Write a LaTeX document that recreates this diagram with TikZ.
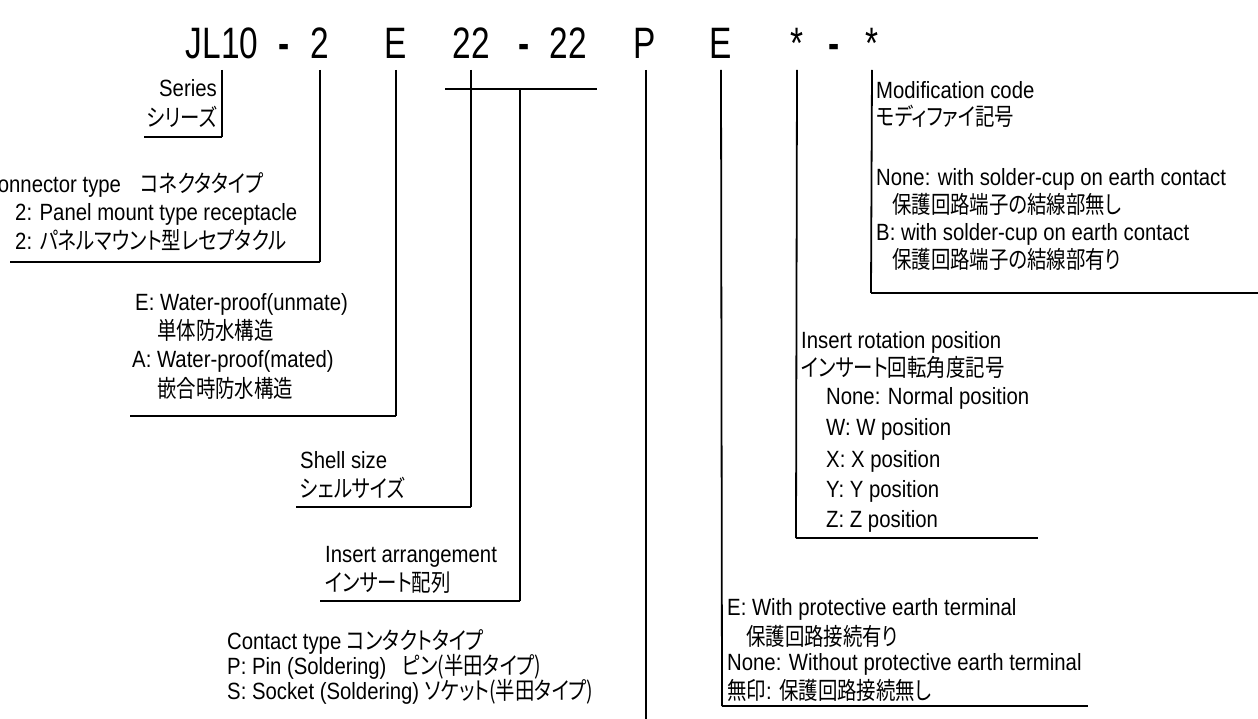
\documentclass[tikz,border=0pt]{standalone}
\usepackage{fontspec}
\setmainfont{Liberation Sans}[FakeStretch=0.865]
\newfontfamily\codefont{Liberation Sans}[FakeStretch=0.76]
\newfontfamily\jpfont{Noto Sans CJK JP}[Scale=1.02,FakeStretch=0.81,RawFeature=+palt]
\newcommand{\ja}[1]{{\jpfont #1}}

\tikzset{
  code/.style={font=\codefont\fontsize{44}{44}\selectfont, inner sep=0pt, anchor=base},
  lbl/.style={font=\fontsize{23.5}{28}\selectfont, inner sep=0pt, anchor=base west},
  vline/.style={line width=1.8pt},
  hline/.style={line width=2.8pt}
}

\begin{document}
\begin{tikzpicture}[x=1pt,y=-1pt]

        % frame of the page
        \clip (0,0) rectangle (1258,719);

        % part number
        \node[code] (jl) at (222,59) {JL10};
        \node[code] (d1) at (284,59) {\bfseries -};
        \node[code] (ctype) at (320,59) {2};
        \node[code] (wp) at (396,59) {E};
        \node[code] (shell) at (471,59) {22};
        \node[code] (d2) at (524,59) {\bfseries -};
        \node[code] (arr) at (568,59) {22};
        \node[code] (cont) at (645,59) {P};
        \node[code] (earth) at (721,59) {E};
        \node[code] (rot) at (797,59) {*};
        \node[code] (d3) at (834,59) {\bfseries -};
        \node[code] (modif) at (872,59) {*};

        % corners of the leaders
        \coordinate (seriesC) at (222,137);
        \coordinate (seriesL) at (144,137);
        \coordinate (ctypeC) at (320,262);
        \coordinate (ctypeL) at (10,262);
        \coordinate (wpC) at (396,416);
        \coordinate (wpL) at (130,416);
        \coordinate (shellC) at (471,507);
        \coordinate (shellL) at (296,507);
        \coordinate (barL) at (445,89);
        \coordinate (barR) at (597,89);
        \coordinate (barM) at (520,89);
        \coordinate (arrC) at (520,601);
        \coordinate (arrL) at (320,601);
        \coordinate (contB) at (646,719);
        \coordinate (earthC) at (722,706);
        \coordinate (earthR) at (1088,706);
        \coordinate (rotC) at (796,538);
        \coordinate (rotR) at (1038,538);
        \coordinate (modifC) at (871,293);
        \coordinate (modifR) at (1258,293);

        % leaders
        \draw[vline] (jl.base |- 0,70) -- (seriesC);
        \draw[hline] (seriesC) -- (seriesL);
        \draw[vline] (ctype.base |- 0,70) -- (ctypeC);
        \draw[hline] (ctypeC) -- (ctypeL);
        \draw[vline] (wp.base |- 0,70) -- (wpC);
        \draw[hline] (wpC) -- (wpL);
        \draw[vline] (shell.base |- 0,70) -- (shellC);
        \draw[hline] (shellC) -- (shellL);
        \draw[hline] (barL) -- (barR);
        \draw[vline] (barM) -- (arrC);
        \draw[hline] (arrC) -- (arrL);
        \draw[vline] (646,70) -- (contB);
        \draw[vline] (earth.base |- 0,70) -- (earthC);
        \draw[hline] (earthC) -- (earthR);
        \draw[vline] (rot.base |- 0,70) -- (rotC);
        \draw[hline] (rotC) -- (rotR);
        \draw[vline] (modif.base |- 0,70) -- (modifC);
        \draw[hline] (modifC) -- (modifR);

        % series
        \node[lbl, anchor=base east] (ser1) at (217,97) {Series};
        \node[lbl, anchor=base east] (ser2) at (217,127) {\ja{シリーズ}};

        % connector type
        \node[lbl] (ct1) at (-17,193) {Connector type\hspace{14pt} \ja{コネクタタイプ}};
        \node[lbl] (ct2) at (15,221) {2: Panel mount type receptacle};
        \node[lbl] (ct3) at (15,250) {2: \ja{パネルマウント型レセプタクル}};

        % water-proof
        \node[lbl] (wp1) at (135,310) {E: Water-proof(unmate)};
        \node[lbl] (wp2) at (157,339) {\ja{単体防水構造}};
        \node[lbl] (wp3) at (132,367) {A: Water-proof(mated)};
        \node[lbl] (wp4) at (157,397) {\ja{嵌合時防水構造}};

        % shell size
        \node[lbl] (sh1) at (300,468) {Shell size};
        \node[lbl] (sh2) at (300,497) {\ja{シェルサイズ}};

        % insert arrangement
        \node[lbl] (ar1) at (325,562) {Insert arrangement};
        \node[lbl] (ar2) at (325,591) {\ja{インサート配列}};

        % contact type
        \node[lbl] (co1) at (227,649) {Contact type \ja{コンタクトタイプ}};
        \node[lbl] (co2) at (227,674) {P: Pin (Soldering)\hspace{10pt} \ja{ピン(半田タイプ)}};
        \node[lbl] (co3) at (227,699) {S: Socket (Soldering) \ja{ソケット(半田タイプ)}};

        % modification
        \node[lbl] (mo1) at (876,99) {Modification code};
        \node[lbl] (mo2) at (876,126) {\ja{モディファイ記号}};
        \node[lbl] (mo3) at (876,186) {None: with solder-cup on earth contact};
        \node[lbl] (mo4) at (892,214) {\ja{保護回路端子の結線部無し}};
        \node[lbl] (mo5) at (876,241) {B: with solder-cup on earth contact};
        \node[lbl] (mo6) at (892,269) {\ja{保護回路端子の結線部有り}};

        % insert rotation
        \node[lbl] (ro1) at (801,348) {Insert rotation position};
        \node[lbl] (ro2) at (801,376) {\ja{インサート回転角度記号}};
        \node[lbl] (ro3) at (826,404) {None: Normal position};
        \node[lbl] (ro4) at (826,435) {W: W position};
        \node[lbl] (ro5) at (826,467) {X: X position};
        \node[lbl] (ro6) at (826,497) {Y: Y position};
        \node[lbl] (ro7) at (826,527) {Z: Z position};

        % earth terminal
        \node[lbl] (ea1) at (727,615) {E: With protective earth terminal};
        \node[lbl] (ea2) at (746,645) {\ja{保護回路接続有り}};
        \node[lbl] (ea3) at (727,670) {None: Without protective earth terminal};
        \node[lbl] (ea4) at (727,699) {\ja{無印}: \ja{保護回路接続無し}};
    \end{tikzpicture}
\end{document}
